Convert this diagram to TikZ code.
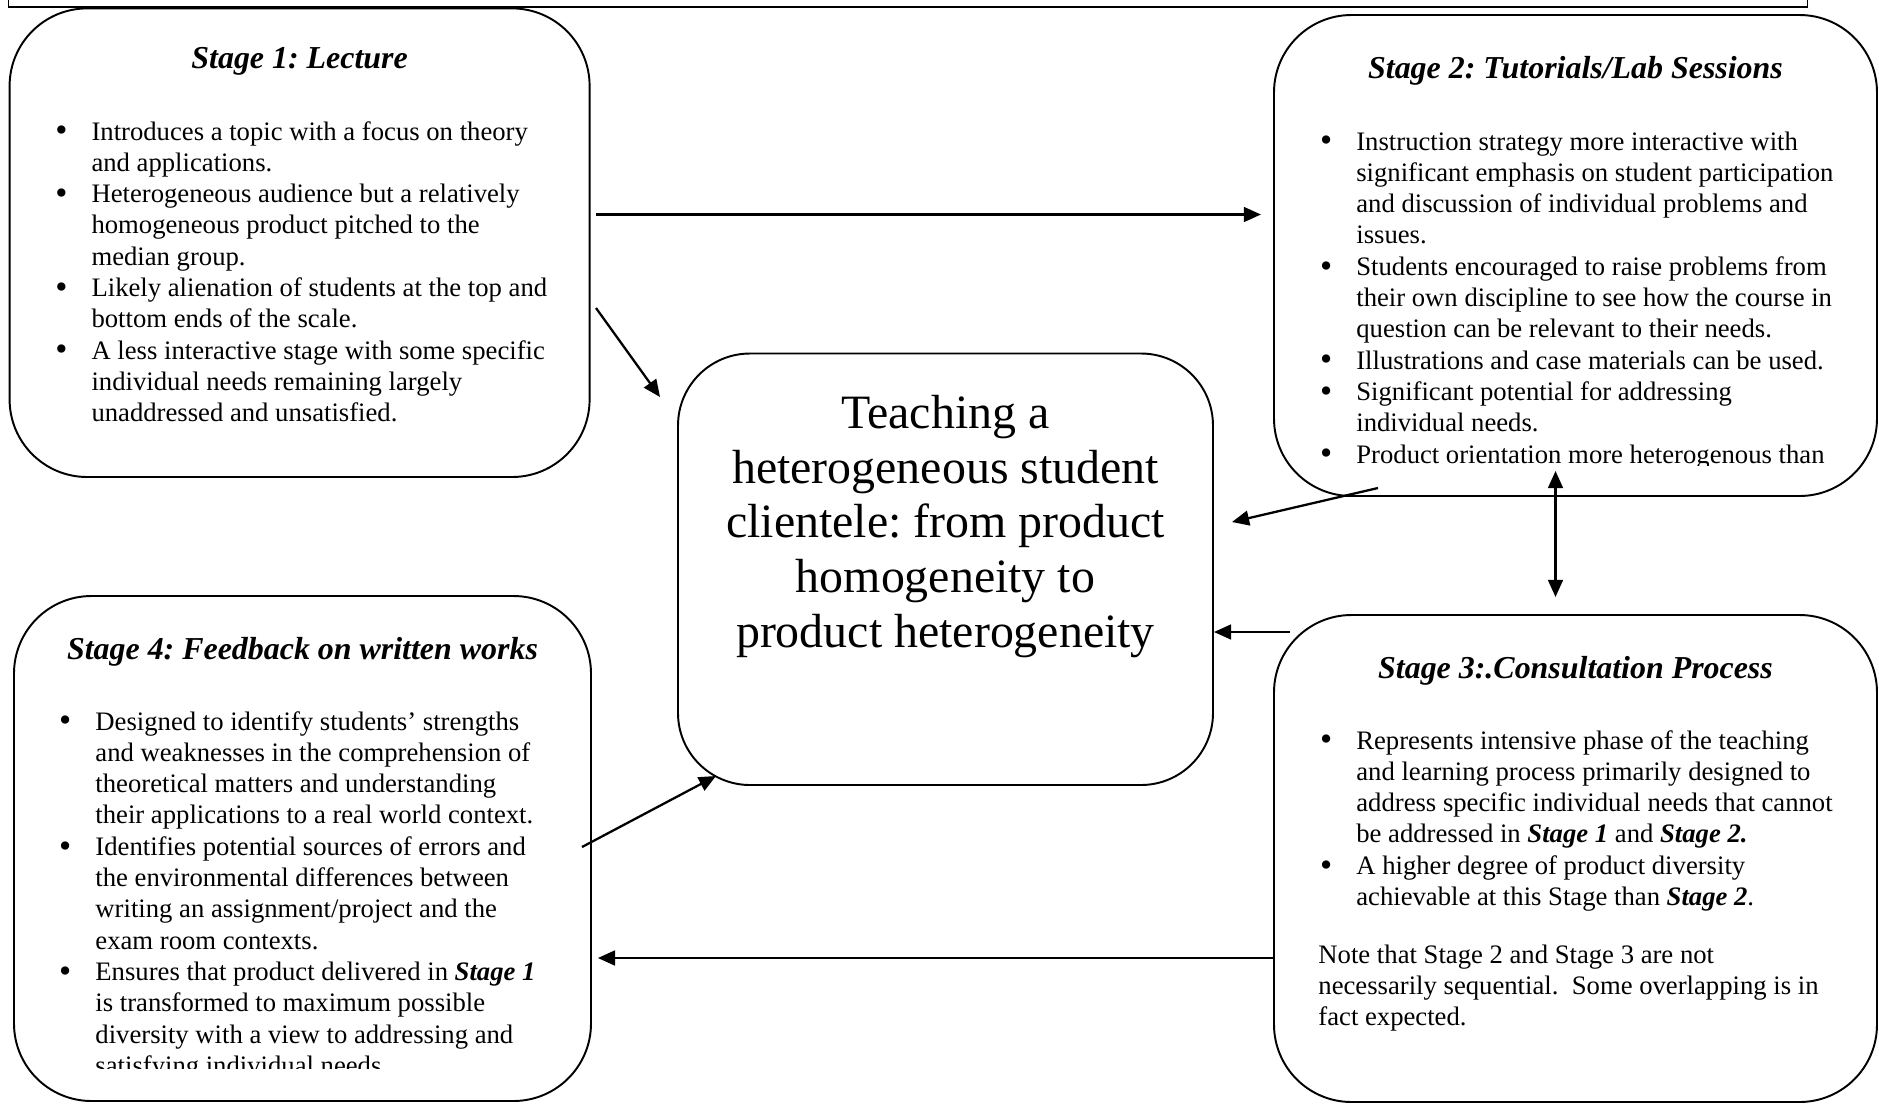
\documentclass[tikz,border=0pt]{standalone}
\usepackage{fontspec}
\setmainfont{Liberation Serif}
\usetikzlibrary{arrows.meta,fit}

\frenchspacing
\newcommand\bodyfont{\fontsize{11.7}{13.73}\selectfont}
\newcommand\titlefont{\fontsize{14}{16.8}\selectfont\bfseries\itshape}
\newcommand\hubfont{\fontsize{21}{24.12}\selectfont}
\newcommand\bul{\makebox[16.4pt][l]{\hspace{0.5pt}\raisebox{-0.8pt}{\scalebox{1.3}{\textbullet}}}}
\newcommand\cont{\hspace*{16.4pt}}
\newcommand\stg[1]{\textbf{\textit{#1}}}

\begin{document}
\begin{tikzpicture}[
  x=0.4386pt, y=-0.4386pt,
  roundbox/.style={draw, line width=0.85pt, inner sep=0pt},
  stagebox/.style={roundbox, rounded corners=34pt},
  hubbox/.style={roundbox, rounded corners=31.6pt},
  stagetitle/.style={anchor=base, inner sep=0pt, font=\titlefont},
  stagelist/.style={anchor=base west, inner sep=0pt, font=\bodyfont},
  hubtext/.style={anchor=base, inner sep=0pt, font=\hubfont},
  flow/.style={line width=1pt, -{Triangle[length=7.5pt,width=6.5pt]}},
  twoway/.style={line width=1pt, {Triangle[length=7.5pt,width=6.5pt]}-{Triangle[length=7.5pt,width=6.5pt]}},
]
  \path[use as bounding box, fill=white] (0,0) rectangle (1879,1103);
  \draw[line width=0.85pt] (8.5,-20) rectangle (1807.5,7);

  \node[stagebox, fit={(9.6,8.4) (589.6,477)}] (s1) {};
  \node[stagebox, fit={(1274,15) (1877,496)}] (s2) {};
  \node[stagebox, fit={(1274,615) (1877,1102)}] (s3) {};
  \node[stagebox, fit={(14,596) (591,1101)}] (s4) {};
  \node[hubbox, fit={(678,353.5) (1213,785)}] (hub) {};

  \node[stagetitle] (s1t) at (299.6,68.5) {Stage 1: Lecture};
  \node[stagetitle] (s2t) at (1575.5,78) {Stage 2: Tutorials/Lab Sessions};
  \node[stagetitle] (s3t) at (1575.5,678) {Stage 3:.Consultation Process};
  \node[stagetitle] (s4t) at (302.5,659) {Stage 4: Feedback on written works};

  \node[stagelist] (s1l) at (53.7,140) {\parbox[t]{260pt}{%
    \bul Introduces a topic with a focus on theory\\
    \cont and applications.\\
    \bul Heterogeneous audience but a relatively\\
    \cont homogeneous product pitched to the\\
    \cont median group.\\
    \bul Likely alienation of students at the top and\\
    \cont bottom ends of the scale.\\
    \bul A less interactive stage with some specific\\
    \cont individual needs remaining largely\\
    \cont unaddressed and unsatisfied.}};

  \begin{scope}
    \clip (1280,100) rectangle (1870,465);
    \node[stagelist] (s2l) at (1318.5,150) {\parbox[t]{260pt}{%
      \bul Instruction strategy more interactive with\\
      \cont significant emphasis on student participation\\
      \cont and discussion of individual problems and\\
      \cont issues.\\
      \bul Students encouraged to raise problems from\\
      \cont their own discipline to see how the course in\\
      \cont question can be relevant to their needs.\\
      \bul Illustrations and case materials can be used.\\
      \bul Significant potential for addressing\\
      \cont individual needs.\\
      \bul Product orientation more heterogenous than}};
  \end{scope}

  \node[stagelist] (s3l) at (1318.5,749) {\parbox[t]{260pt}{%
    \bul Represents intensive phase of the teaching\\
    \cont and learning process primarily designed to\\
    \cont address specific individual needs that cannot\\
    \cont be addressed in \stg{Stage 1} and \stg{Stage 2.}\\
    \bul A higher degree of product diversity\\
    \cont achievable at this Stage than \stg{Stage 2}.}};
  \node[stagelist] (s3n) at (1318,963) {\parbox[t]{260pt}{%
    Note that Stage 2 and Stage 3 are not\\
    necessarily sequential.\ \ Some overlapping is in\\
    fact expected.}};

  \begin{scope}
    \clip (20,680) rectangle (585,1068);
    \node[stagelist] (s4l) at (57.6,730) {\parbox[t]{260pt}{%
      \bul Designed to identify students’ strengths\\
      \cont and weaknesses in the comprehension of\\
      \cont theoretical matters and understanding\\
      \cont their applications to a real world context.\\
      \bul Identifies potential sources of errors and\\
      \cont the environmental differences between\\
      \cont writing an assignment/project and the\\
      \cont exam room contexts.\\
      \bul Ensures that product delivered in \stg{Stage 1}\\
      \cont is transformed to maximum possible\\
      \cont diversity with a view to addressing and\\
      \cont satisfying individual needs.}};
  \end{scope}

  \node[hubtext] (hubt) at (945.5,428) {\parbox[t]{280pt}{\centering
    Teaching a\\
    heterogeneous student\\
    clientele: from product\\
    homogeneity to\\
    product heterogeneity}};

  \coordinate (t12) at (596,214.5);
  \coordinate (t1h) at (596,308);
  \coordinate (h1h) at (660,397);
  \coordinate (t2h) at (1378,488);
  \coordinate (h2h) at (1232,522);
  \coordinate (d23a) at (1555.5,471);
  \coordinate (d23b) at (1555.5,597);
  \coordinate (t3h) at (1290,632);
  \coordinate (t4h) at (582,847);
  \coordinate (h4h) at (716,776);
  \coordinate (t34) at (1274,958);

  \draw[flow, shorten >=5.3pt] (t12) -- (t12 -| s2.west);
  \draw[flow] (t1h) -- (h1h);
  \draw[flow] (t2h) -- (h2h);
  \draw[twoway] (d23a) -- (d23b);
  \draw[flow] (t3h) -- (t3h -| hub.east);
  \draw[flow] (t4h) -- (h4h);
  \draw[flow, shorten >=2.6pt] (t34) -- (t34 -| s4.east);
\end{tikzpicture}
\end{document}
